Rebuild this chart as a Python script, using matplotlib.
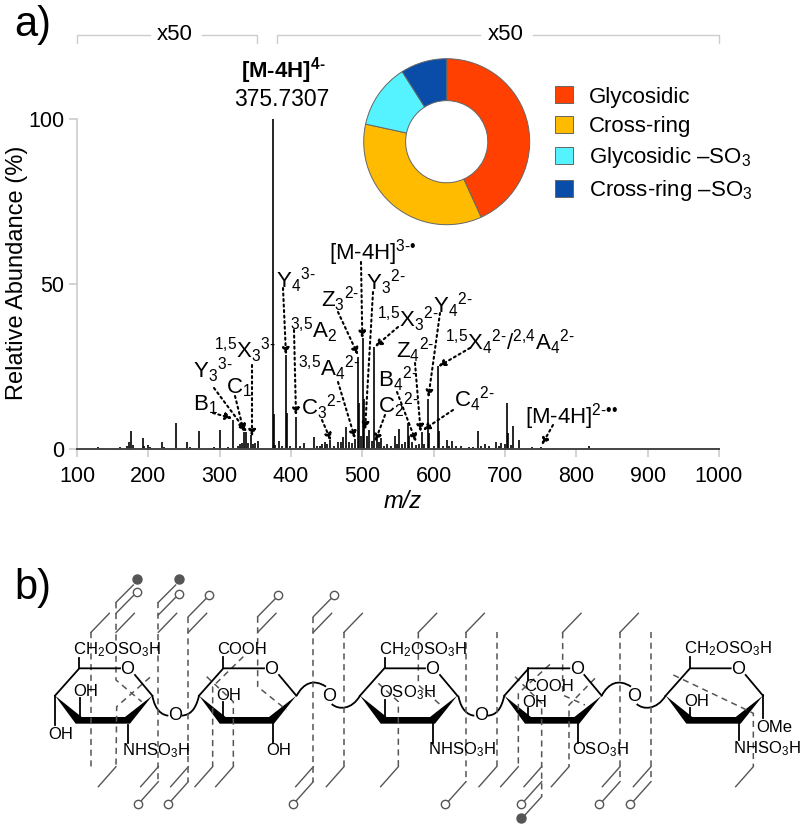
import matplotlib
matplotlib.use("Agg")
import matplotlib.pyplot as plt
from matplotlib.path import Path
from matplotlib.patches import PathPatch, Polygon

plt.rcParams['font.family'] = ['Liberation Sans', 'DejaVu Sans']
plt.rcParams['mathtext.fontset'] = 'custom'
plt.rcParams['mathtext.rm'] = 'Liberation Sans'
plt.rcParams['mathtext.it'] = 'Liberation Sans:italic'
plt.rcParams['mathtext.bf'] = 'Liberation Sans:bold'

# spectrum peaks
peak_mz = [130, 160, 170, 173, 175.7, 178, 192, 194, 199, 203, 218.7, 222, 238.8, 254, 258, 271.5, 292, 300,
           312, 318, 325, 328, 331, 334, 337, 340, 343.5, 347, 350, 354, 375, 376, 378, 383, 388, 393, 394,
           398, 407, 412, 418, 432, 436, 440, 444, 448, 451, 455, 460, 466, 470, 473, 476.6, 481, 486, 490,
           493.5, 495, 498, 500.5, 503, 506, 510, 514, 517, 520, 523, 526, 531, 535, 540, 546, 549, 552, 556,
           560, 564.5, 566, 570, 575, 579, 583, 587, 591.6, 593, 600, 606.5, 608, 613, 618, 622, 626, 632, 638,
           650, 655, 662.7, 666, 672, 678, 688, 692, 695, 700, 703, 704, 708, 711, 720, 738, 751, 767, 817.8]
peak_ab = [0.7, 0.5, 1.0, 2.2, 5.5, 1.2, 3.2, 1.0, 1.2, 0.7, 2.0, 0.6, 7.8, 2.2, 0.7, 5.5, 0.6, 5.8,
           0.7, 8.8, 0.8, 1.5, 1.8, 5.0, 5.0, 1.8, 4.2, 1.5, 1.8, 2.4, 100, 10.6, 1.2, 2.4, 1.0, 28.5, 11,
           0.8, 9.8, 1.0, 1.7, 3.5, 0.8, 0.8, 1.5, 2.2, 1.5, 2.7, 1.0, 2.2, 2.0, 3.7, 6.8, 2.0, 1.7, 3.0,
           28, 14, 4.0, 33.5, 15, 4.0, 5.8, 2.5, 31, 3.7, 2.0, 3.2, 1.0, 1.5, 1.0, 4.0, 1.5, 6.0, 1.5,
           2.0, 8.0, 4.0, 2.0, 1.2, 1.5, 5.3, 1.5, 15.3, 4.7, 1.0, 25, 5.5, 0.8, 2.7, 1.0, 2.4, 0.8, 1.0,
           0.7, 0.7, 5.5, 0.8, 1.5, 1.0, 2.0, 0.8, 1.7, 1.5, 13.8, 4.7, 1.2, 7.0, 2.7, 0.7, 0.5, 0.4, 1.0]
tick_x = [100, 200, 300, 400, 500, 600, 700, 800, 900, 1000]
tick_y = [0, 50, 100]

# fragment labels, their places on the page and the peak each one points at
frag_labels = ['B$_1$', 'Y$_3{}^{3‐}$', 'C$_1$', '$^{1{,}5}$X$_3{}^{3‐}$', 'Y$_4{}^{3‐}$', '$^{3{,}5}$A$_2$',
               '$^{3{,}5}$A$_4{}^{2‐}$', 'C$_3{}^{2‐}$', 'Z$_3{}^{2‐}$', '[M-4H]$^{3‐•}$', 'Y$_3{}^{2‐}$',
               '$^{1{,}5}$X$_3{}^{2‐}$', 'Z$_4{}^{2‐}$', 'Y$_4{}^{2‐}$',
               '$^{1{,}5}$X$_4{}^{2‐}$/$^{2{,}4}$A$_4{}^{2‐}$',
               'B$_4{}^{2‐}$', 'C$_2{}^{2‐}$', 'C$_4{}^{2‐}$', '[M-4H]$^{2‐••}$']
label_x = [193, 193, 226, 214, 276, 290, 298, 301, 321, 329, 366, 377, 396, 433, 445, 378, 378, 454, 525]
label_y = [410, 378, 393, 358, 288, 338, 376, 415, 307, 260, 290, 327, 358, 313, 350, 387, 413, 407, 424]
arrow_x = [213, 214, 235, 252, 283, 294, 338, 322, 338, 361, 373, 398, 415, 440, 470, 397, 385, 453, 553]
arrow_y = [413, 388, 396, 365, 288, 330, 382, 420, 312, 262, 292, 327, 363, 313, 348, 392, 415, 410, 425]
tip_mz = [317.7, 337.9, 334, 345.3, 393, 407, 489.7, 456, 493.9, 500, 503.8, 517.8, 581.8, 592.5, 606.5, 575.3, 517.8, 585, 751.5]
tip_ab = [9.3, 5.2, 5.2, 3.7, 28.5, 10.2, 3.2, 2.5, 28.5, 33.5, 5.8, 31, 5.2, 15.6, 25, 2.2, 2.2, 5.7, 1.2]

# donut
frag_types = ['Glycosidic', 'Cross-ring', 'Glycosidic –SO$_3$', 'Cross-ring –SO$_3$']
frag_share = [43.2, 35.2, 12.6, 9.0]
frag_colors = ['#FF4000', '#FFBB00', '#55F2FF', '#0A4DA8']

# structure in b), all in one drawing unit (3 units = 1 pixel)
ring_x = [75, 507, 990, 1423, 1907]
links = [(367, 377, 375, 420, 395, 435, 415, 437, 455, 437, 480, 435, 497, 420, 507, 377),
         (800, 377, 820, 340, 850, 325, 888, 350, 905, 402, 925, 420, 965, 420, 990, 377),
         (1285, 377, 1293, 420, 1313, 435, 1333, 437, 1373, 437, 1398, 435, 1413, 420, 1423, 377),
         (1715, 377, 1735, 340, 1765, 325, 1803, 350, 1820, 402, 1840, 420, 1880, 420, 1907, 377)]
link_oxygens = [(435, 435), (897, 380), (1353, 435), (1813, 380)]
groups = [('CH$_2$OSO$_3$H', 130, 237), ('OH', 130, 362), ('OH', 55, 492), ('NHSO$_3$H', 277, 540),
          ('COOH', 562, 237), ('OH', 560, 373), ('OH', 708, 540),
          ('CH$_2$OSO$_3$H', 1047, 237), ('OSO$_3$H', 1047, 365), ('NHSO$_3$H', 1195, 538),
          ('COOH', 1482, 347), ('OH', 1478, 395), ('OSO$_3$H', 1625, 538),
          ('CH$_2$OSO$_3$H', 1962, 235), ('OH', 1962, 393), ('OMe', 2180, 470), ('NHSO$_3$H', 2110, 533)]
bonds = [(148, 295, 148, 265), (150, 450, 150, 385), (75, 377, 75, 465), (295, 465, 295, 520),
         (578, 295, 578, 260), (578, 450, 578, 395), (728, 450, 728, 520),
         (1065, 295, 1065, 265), (1065, 450, 1065, 390), (1210, 450, 1210, 520),
         (1495, 295, 1495, 330), (1495, 450, 1495, 415), (1645, 450, 1645, 520),
         (1980, 295, 1980, 260), (1980, 450, 1980, 415), (2200, 375, 2200, 445), (2128, 450, 2128, 510)]
cuts = [[(183, 187), (183, 590)],
        [(258, 97), (258, 330), (335, 395)],
        [(360, 322), (260, 410), (258, 590)],
        [(385, 97), (385, 635)],
        [(475, 140), (475, 635)],
        [(640, 260), (548, 350), (548, 590)],
        [(530, 320), (610, 395), (610, 590)],
        [(683, 140), (683, 350), (770, 420)],
        [(850, 140), (850, 635)],
        [(942, 187), (942, 590)],
        [(1045, 340), (1105, 395), (1105, 590)],
        [(1165, 187), (1165, 345), (1235, 408)],
        [(1308, 187), (1308, 635)],
        [(1400, 187), (1400, 590)],
        [(1560, 283), (1465, 370), (1465, 590)],
        [(1455, 320), (1535, 400), (1535, 680)],
        [(1598, 187), (1598, 375), (1665, 405)],
        [(1695, 325), (1617, 405), (1617, 590)],
        [(1770, 187), (1770, 635)],
        [(1863, 185), (1863, 635)],
        [(1930, 315), (2140, 415), (2170, 430), (2170, 590)]]
top_plain = [183, 258, 385, 475, 683, 850, 942, 1165, 1308, 1598, 1770]
top_open = [(258, 130), (385, 135), (475, 140), (683, 140), (850, 140)]
top_filled = [258, 385]
bottom_plain = [258, 385, 475, 548, 610, 850, 942, 1105, 1400, 1465, 1535, 1617, 1770, 1863, 2170]
bottom_open = [385, 475, 850, 1308, 1535, 1770, 1863]
bottom_filled = [1535]

GRAY = '#555555'

fig = plt.figure(figsize=(8, 8.27), dpi=100)

# spectrum
ax = fig.add_axes([77 / 800, 1 - 449 / 827, 642 / 800, 330 / 827])
ax.vlines(peak_mz, 0, peak_ab, color='black', lw=1.2)
ax.set_xlim(100, 1000)
ax.set_ylim(0, 100)
ax.set_xticks(tick_x)
ax.set_yticks(tick_y)
ax.tick_params(axis='both', length=6, width=1.2, color='#cccccc', labelsize=15.5, pad=3)
ax.tick_params(axis='x', pad=6)
ax.spines['top'].set_visible(False)
ax.spines['right'].set_visible(False)
ax.spines['left'].set_color('#cccccc')
ax.spines['left'].set_linewidth(1.2)
ax.spines['bottom'].set_color('#444444')
ax.spines['bottom'].set_linewidth(1.4)
ax.set_ylabel('Relative Abundance (%)', fontsize=17)
ax.yaxis.set_label_coords(-0.076, 0.533)

# page overlay in pixels, for labels and arrows
over = fig.add_axes([0, 0, 1, 1], zorder=5)
over.set_xlim(0, 800)
over.set_ylim(827, 0)
over.axis('off')
over.patch.set_alpha(0)

over.text(14, 25, 'a)', fontsize=30, va='center')
over.text(14, 588, 'b)', fontsize=30, va='center')
over.text(403, 502, 'm/z', style='italic', fontsize=17, ha='center', va='center')
over.text(283, 71, '[M-4H]$^{\\mathbf{4‐}}$', fontsize=16, fontweight='bold', ha='center', va='center')
over.text(282, 99, '375.7307', fontsize=16.5, ha='center', va='center')

for x0, x1, x2, x3, xt in [(77, 150, 202, 257, 175), (277, 480, 533, 719, 506)]:
    over.plot([x0, x0, x1], [43, 35, 35], color='#cccccc', lw=1)
    over.plot([x2, x3, x3], [35, 35, 43], color='#cccccc', lw=1)
    over.text(xt, 35, 'x50', fontsize=16, ha='center', va='center')

for lab, lx, ly in zip(frag_labels, label_x, label_y):
    over.text(lx, ly, lab, fontsize=16, va='baseline')
for ax0, ay0, mz, ab in zip(arrow_x, arrow_y, tip_mz, tip_ab):
    over.annotate('', xy=(mz, ab), xycoords=ax.transData, xytext=(ax0, ay0), textcoords=over.transData,
                  arrowprops=dict(arrowstyle='-|>', linestyle=':', lw=1.5, color='black',
                                  mutation_scale=10, shrinkA=0, shrinkB=0))

# donut and its legend
pie_ax = fig.add_axes([(446.7 - 83) / 800, 1 - (141.7 + 83) / 827, 166 / 800, 166 / 827])
wedges, _ = pie_ax.pie(frag_share, colors=frag_colors, startangle=90, counterclock=False, radius=1,
                       wedgeprops=dict(width=0.505, edgecolor='#666666', linewidth=0.7))
pie_ax.set_xlim(-1, 1)
pie_ax.set_ylim(-1, 1)
fig.legend(wedges, frag_types, loc='upper left', bbox_to_anchor=(551 / 800, 1 - 82 / 827), frameon=False,
           fontsize=16, handlelength=0.8, handleheight=0.8, handletextpad=0.7, labelspacing=0.36,
           borderpad=0.2, borderaxespad=0)

# structure
st = fig.add_axes([30 / 800, 0, 770 / 800, 257 / 827], zorder=4)
st.set_xlim(0, 2310)
st.set_ylim(771, 0)
st.axis('off')
st.patch.set_alpha(0)

for cut in cuts:
    st.plot([p[0] for p in cut], [p[1] for p in cut], color=GRAY, lw=1.1, dashes=(4, 3))
for u in top_plain:
    st.plot([u, u + 55], [187, 130], color=GRAY, lw=1)
for u, v in top_open:
    st.plot([u, u + 52], [v, v - 53], color=GRAY, lw=1)
    st.plot([u + 62], [v - 64], 'o', mfc='white', mec=GRAY, mew=1, ms=6)
for u in top_filled:
    st.plot([u, u + 52], [97, 45], color=GRAY, lw=1)
    st.plot([u + 62], [28], 'o', color=GRAY, ms=6.5)
for u in bottom_plain:
    st.plot([u, u - 53], [590, 650], color=GRAY, lw=1)
for u in bottom_open:
    st.plot([u, u - 52], [635, 693], color=GRAY, lw=1)
    st.plot([u - 62], [703], 'o', mfc='white', mec=GRAY, mew=1, ms=6)
for u in bottom_filled:
    st.plot([u, u - 50], [680, 735], color=GRAY, lw=1)
    st.plot([u - 62], [745], 'o', color=GRAY, ms=6.5)

for x0 in ring_x:
    st.plot([x0, x0 + 73, x0 + 195], [377, 295, 295], color='black', lw=1.3, solid_joinstyle='miter')
    st.plot([x0 + 240, x0 + 292], [315, 377], color='black', lw=1.3)
    st.add_patch(Polygon([(x0, 377), (x0 + 62, 461), (x0 + 225, 461), (x0 + 292, 377),
                          (x0 + 210, 441), (x0 + 80, 441)], closed=True, color='black', lw=0))
    st.text(x0 + 217, 298, 'O', fontsize=13, ha='center', va='center')
for l in links:
    codes = [Path.MOVETO, Path.CURVE4, Path.CURVE4, Path.CURVE4] * 2
    verts = [(l[i], l[i + 1]) for i in range(0, 16, 2)]
    st.add_patch(PathPatch(Path(verts, codes), fc='none', ec='black', lw=1.3))
for u, v in link_oxygens:
    st.text(u, v, 'O', fontsize=13, ha='center', va='center')
for b in bonds:
    st.plot([b[0], b[2]], [b[1], b[3]], color='black', lw=1.3)
for lab, u, v in groups:
    st.text(u, v + 16, lab, fontsize=12, va='baseline')

fig.savefig('out.png', dpi=100)
